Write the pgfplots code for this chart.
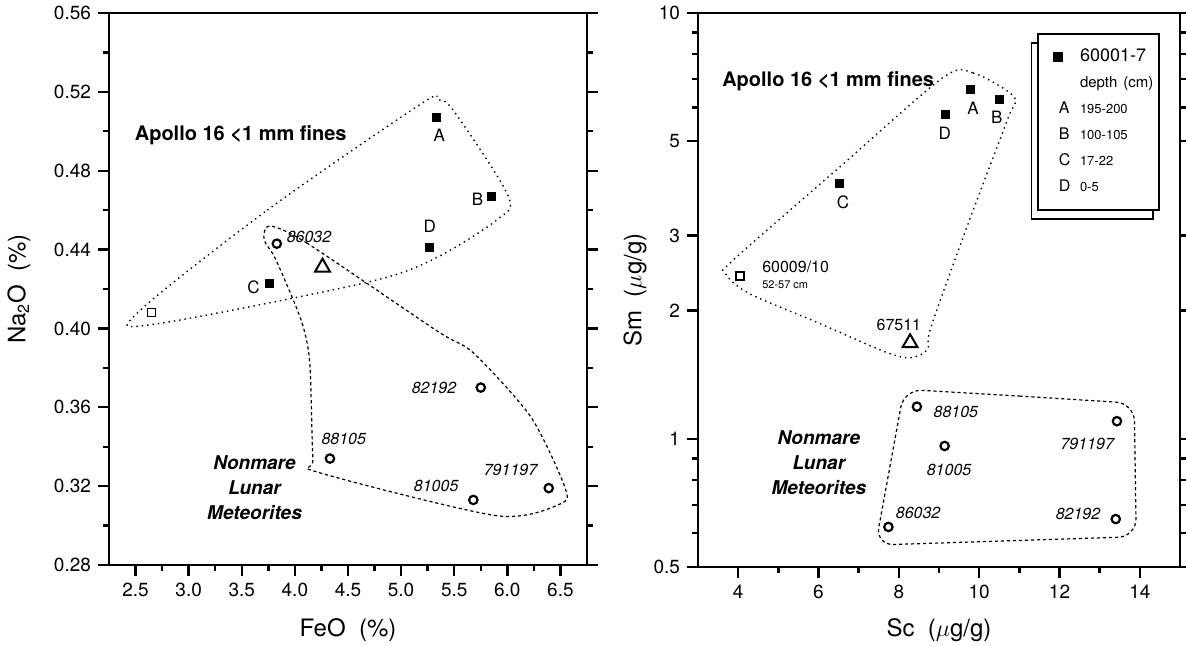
\documentclass[border=0pt]{standalone}
\usepackage{pgfplots}
\pgfplotsset{compat=1.18}
\usepackage{fontspec}
\setmainfont{TeX Gyre Heros}
\usetikzlibrary{shadows}

\pgfplotsset{
  panel/.style={
    scale only axis,
    axis line style={line width=1.3pt},
    tick align=outside,
    xtick pos=lower, ytick pos=both,
    major tick length=5.5pt,
    minor tick length=3pt,
    every tick/.style={black, line width=1.2pt},
    tick label style={font=\fontsize{9.5}{11}\selectfont},
    label style={font=\fontsize{12}{14}\selectfont},
    /pgf/number format/assume math mode=true,
    clip=false,
  },
  fill sq/.style={only marks, mark=square*, mark size=2pt, black, forget plot},
  open sq/.style={only marks, mark=square, mark size=2pt, black, line width=0.8pt, forget plot},
  tri/.style={only marks, mark=triangle, mark size=4.3pt, black, line width=1pt, forget plot},
  circ/.style={only marks, mark=o, mark size=2.1pt, black, line width=1.1pt, forget plot},
  apollo line/.style={black, dotted, line width=0.7pt, smooth cycle, tension=0.5, forget plot},
  meteor line/.style={black, dash pattern=on 1.6pt off 1.4pt, line width=0.6pt, forget plot},
}
\tikzset{
  ltr/.style={font=\fontsize{8.5}{10}\selectfont, inner sep=0pt},
  num/.style={font=\fontsize{8}{10}\selectfont\itshape, inner sep=0pt},
  grp/.style={font=\fontsize{10}{12.5}\selectfont\bfseries, inner sep=0pt},
  grpi/.style={font=\fontsize{9.5}{12.5}\selectfont\bfseries\itshape, inner sep=0pt, align=center},
  lgletter/.style={inner sep=0pt, font=\fontsize{8}{9}\selectfont},
}
\newcommand{\lgtext}[2]{\hspace*{2pt}{\fontsize{#1}{#1}\selectfont #2}}

\begin{document}
\begin{tikzpicture}
\useasboundingbox (-54.5pt,-40.5pt) rectangle (538.5pt,282.5pt);

% left panel: Na2O vs FeO
\begin{axis}[panel, width=239pt, height=276pt,
  xmin=2.25, xmax=6.75, ymin=0.28, ymax=0.56,
  xtick={2.5,3.0,3.5,4.0,4.5,5.0,5.5,6.0,6.5}, minor x tick num=1,
  ytick={0.28,0.32,0.36,0.40,0.44,0.48,0.52,0.56}, minor y tick num=1,
  xticklabel style={/pgf/number format/.cd, fixed, fixed zerofill, precision=1},
  yticklabel style={/pgf/number format/.cd, fixed, fixed zerofill, precision=2},
  xlabel={FeO\ \ (\%)}, ylabel={Na\textsubscript{2}O\ \ (\%)},
  xlabel style={at={([yshift=-32.5pt]axis description cs:0.5,0)}, anchor=center},
  ylabel style={at={([xshift=-45pt]axis description cs:0,0.5)}, anchor=center},
]
\addplot[apollo line] coordinates {
  (2.52,0.408) (3.74,0.460) (5.19,0.514) (5.35,0.516) (5.50,0.510)
  (6.01,0.467) (5.90,0.455) (5.30,0.435) (4.65,0.423) (2.66,0.402)};
\addplot[meteor line, smooth cycle, tension=0.45] coordinates {
  (3.76,0.452) (4.11,0.4434) (5.33,0.399) (5.68,0.3876) (6.22,0.3552)
  (6.54,0.3197) (6.50,0.311) (5.90,0.305) (4.22,0.327) (4.17,0.334)
  (4.14,0.3826) (4.06,0.404) (3.82,0.435) (3.71,0.445)};
\addplot[fill sq] coordinates {(5.33,0.507) (5.85,0.467) (3.76,0.4226) (5.27,0.441)};
\addplot[open sq] coordinates {(2.65,0.408)};
\addplot[tri] coordinates {(4.26,0.431)};
\addplot[circ] coordinates {(3.83,0.443) (5.75,0.370) (4.33,0.334) (5.68,0.313) (6.39,0.319)};

\node[ltr] at (axis cs:5.36,0.498) {A};
\node[ltr] at (axis cs:5.72,0.4657) {B};
\node[ltr] at (axis cs:3.61,0.421) {C};
\node[ltr] at (axis cs:5.27,0.452) {D};
\node[grp] at (axis cs:3.49,0.498) {Apollo 16 <1 mm fines};
\node[num, anchor=west] at (axis cs:3.92,0.4464) {86032};
\node[num] at (axis cs:5.31,0.370) {82192};
\node[num] at (axis cs:4.46,0.344) {88105};
\node[num] at (axis cs:5.33,0.320) {81005};
\node[num] at (axis cs:6.03,0.328) {791197};
\node[grpi] at (axis cs:3.62,0.319) {Nonmare\\Lunar\\Meteorites};
\end{axis}

% right panel: Sm vs Sc
\begin{axis}[panel, width=241pt, height=277pt, at={(294.5pt,-1pt)},
  ymode=log, xmin=3, xmax=15, ymin=0.5, ymax=10,
  xtick={4,6,8,10,12,14}, minor x tick num=1,
  ytick={0.5,1,2,3,5,10}, yticklabels={0.5,1,2,3,5,10},
  minor ytick={0.6,0.7,0.8,0.9,6,7,8,9},
  xlabel={Sc\ \ ($\mu$g/g)}, ylabel={Sm\ \ ($\mu$g/g)},
  xlabel style={at={([yshift=-31.5pt]axis description cs:0.5,0)}, anchor=center},
  ylabel style={at={([xshift=-31.5pt]axis description cs:0,0.5)}, anchor=center},
  legend style={at={(1,1)}, anchor=north east, xshift=-10pt, yshift=-10pt,
    draw=black, line width=1pt, fill=white,
    copy shadow={shadow xshift=-3pt, shadow yshift=-4.5pt, draw=black, fill=white, line width=0.6pt},
    font=\fontsize{9}{10}\selectfont,
    inner xsep=1pt, inner ysep=7pt, row sep=4pt,
    nodes={inner sep=0pt, text height=7pt, text depth=2pt},
    /tikz/every even column/.append style={text width=40.5pt}},
  legend cell align=left,
]
\addplot[only marks, mark=square*, mark size=2pt, black,
  legend image code/.code={\path (0cm,0cm) (0.6cm,0cm);
    \draw[only marks, mark=square*, mark size=2pt] plot coordinates {(0.3cm,0cm)};}]
  coordinates {(9.79,6.63) (10.5,6.28) (6.52,3.99) (9.16,5.79)};
\addlegendentry{\lgtext{9}{60001-7}}
\addlegendimage{legend image code/.code={\path (0cm,0cm) (0.6cm,0cm);}}
\addlegendentry{\lgtext{7.5}{depth (cm)}}
\addlegendimage{legend image code/.code={\path (0cm,0cm) (0.6cm,0cm); \node[lgletter] at (0.3cm,0cm) {A};}}
\addlegendentry{\lgtext{6.5}{195-200}}
\addlegendimage{legend image code/.code={\path (0cm,0cm) (0.6cm,0cm); \node[lgletter] at (0.3cm,0cm) {B};}}
\addlegendentry{\lgtext{6.5}{100-105}}
\addlegendimage{legend image code/.code={\path (0cm,0cm) (0.6cm,0cm); \node[lgletter] at (0.3cm,0cm) {C};}}
\addlegendentry{\lgtext{6.5}{17-22}}
\addlegendimage{legend image code/.code={\path (0cm,0cm) (0.6cm,0cm); \node[lgletter] at (0.3cm,0cm) {D};}}
\addlegendentry{\lgtext{6.5}{0-5}}

\addplot[apollo line] coordinates {
  (9.08,7.03) (9.85,7.23) (10.87,6.35) (10.70,5.61) (9.73,3.21) (8.80,1.83)
  (8.71,1.62) (8.28,1.55) (7.66,1.60) (5.95,1.88) (4.25,2.20) (3.68,2.45)
  (3.88,2.63) (6.47,4.30)};
\addplot[meteor line, sharp plot, rounded corners=9pt] coordinates {
  (11.0,1.26) (13.86,1.212) (13.91,0.589) (7.42,0.563) (8.13,1.307) (11.0,1.26)};
\addplot[open sq] coordinates {(4.05,2.41)};
\addplot[tri] coordinates {(8.28,1.68)};
\addplot[circ] coordinates {(8.45,1.19) (9.14,0.962) (13.43,1.10) (7.74,0.621) (13.4,0.648)};

\node[grp] at (axis cs:6.24,6.92) {Apollo 16 <1 mm fines};
\node[ltr] at (axis cs:9.85,5.98) {A};
\node[ltr] at (axis cs:10.44,5.70) {B};
\node[ltr] at (axis cs:6.61,3.60) {C};
\node[ltr] at (axis cs:9.14,5.23) {D};
\node[ltr, font=\fontsize{8}{10}\selectfont, anchor=west] at (axis cs:4.59,2.53) {60009/10};
\node[ltr, font=\fontsize{5.5}{7}\selectfont, anchor=west] at (axis cs:4.59,2.30) {52-57 cm};
\node[ltr, font=\fontsize{8}{10}\selectfont] at (axis cs:8.0,1.85) {67511};
\node[num] at (axis cs:9.42,1.156) {88105};
\node[num] at (axis cs:9.25,0.845) {81005};
\node[num] at (axis cs:12.69,0.973) {791197};
\node[num] at (axis cs:8.48,0.670) {86032};
\node[num] at (axis cs:12.46,0.666) {82192};
\node[grpi] at (axis cs:6.01,0.877) {Nonmare\\Lunar\\Meteorites};
\end{axis}
\end{tikzpicture}
\end{document}
